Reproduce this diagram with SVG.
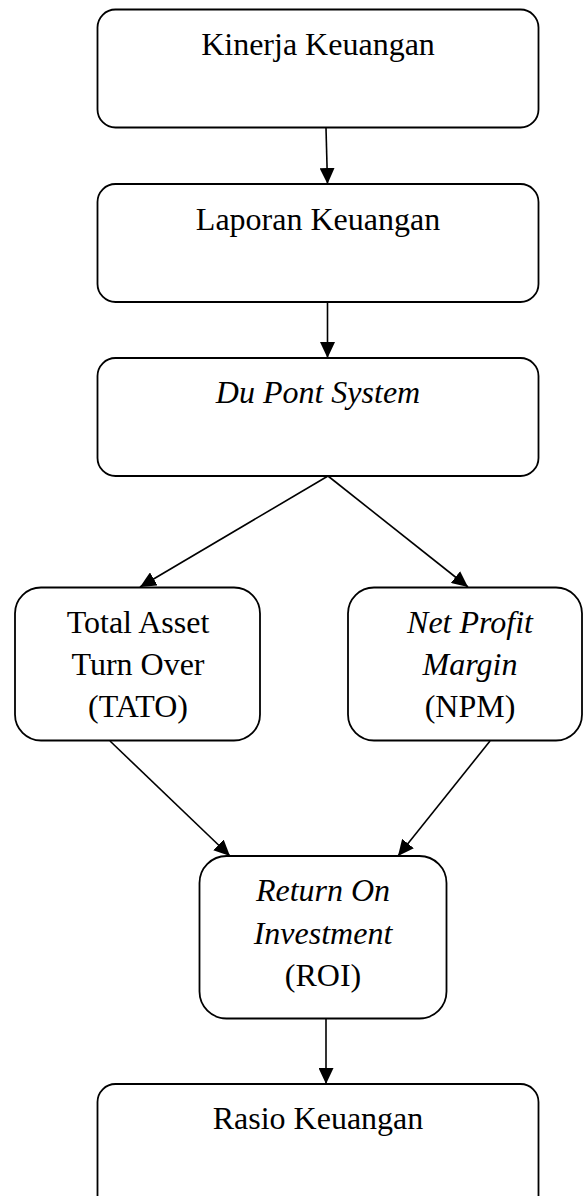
<svg xmlns="http://www.w3.org/2000/svg" width="583" height="1196" viewBox="0 0 583 1196">
<defs>
<style>
.box{fill:#fff;stroke:#000;stroke-width:1.8}
.t{font-family:"Liberation Serif","Times New Roman",serif;font-size:32px;fill:#000;text-anchor:middle}
.i{font-style:italic}
.c{fill:none;stroke:#000;stroke-width:1.6}
</style>
<marker id="ah" markerUnits="userSpaceOnUse" markerWidth="16" markerHeight="15" refX="16" refY="7.5" orient="auto" viewBox="0 0 16 15">
<path d="M0,0 L16,7.5 L0,15 Z" fill="#000"/>
</marker>
</defs>
<rect width="583" height="1196" fill="#fff"/>
<g id="connectors">
<line class="c" x1="326" y1="128" x2="327.5" y2="184" marker-end="url(#ah)"/>
<line class="c" x1="327.5" y1="302" x2="327.5" y2="358" marker-end="url(#ah)"/>
<line class="c" x1="328" y1="476" x2="140" y2="587" marker-end="url(#ah)"/>
<line class="c" x1="328" y1="476" x2="468" y2="587" marker-end="url(#ah)"/>
<line class="c" x1="110" y1="741" x2="230" y2="856" marker-end="url(#ah)"/>
<line class="c" x1="490" y1="741" x2="398" y2="856" marker-end="url(#ah)"/>
<line class="c" x1="326" y1="1018" x2="326" y2="1084" marker-end="url(#ah)"/>
</g>
<g id="kinerja">
<rect class="box" x="97.5" y="9.5" width="441" height="118" rx="18"/>
<text class="t" x="318" y="55">Kinerja Keuangan</text>
</g>
<g id="laporan">
<rect class="box" x="97.5" y="184" width="441" height="118" rx="18"/>
<text class="t" x="318" y="230">Laporan Keuangan</text>
</g>
<g id="dupont">
<rect class="box" x="97.5" y="358" width="441" height="118" rx="18"/>
<text class="t i" x="318" y="403">Du Pont System</text>
</g>
<g id="tato">
<rect class="box" x="15" y="587.5" width="245" height="153" rx="26"/>
<text class="t" x="138" y="633">Total Asset</text>
<text class="t" x="138" y="675">Turn Over</text>
<text class="t" x="138" y="717">(TATO)</text>
</g>
<g id="npm">
<rect class="box" x="348" y="587.5" width="234" height="153" rx="26"/>
<text class="t i" x="470" y="633">Net Profit</text>
<text class="t i" x="470" y="675">Margin</text>
<text class="t" x="470" y="717">(NPM)</text>
</g>
<g id="roi">
<rect class="box" x="199.5" y="856" width="247" height="162.5" rx="27"/>
<text class="t i" x="323" y="901">Return On</text>
<text class="t i" x="323" y="944">Investment</text>
<text class="t" x="323" y="986">(ROI)</text>
</g>
<g id="rasio">
<rect class="box" x="97.5" y="1084" width="441" height="130" rx="18"/>
<text class="t" x="318" y="1129">Rasio Keuangan</text>
</g>
</svg>
